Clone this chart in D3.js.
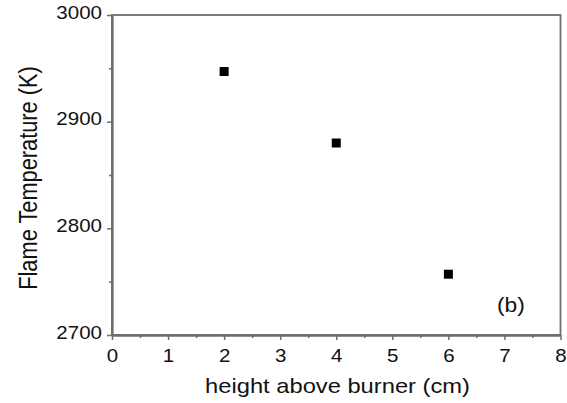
<!DOCTYPE html>
<html>
<head>
<meta charset="utf-8">
<script src="https://cdn.jsdelivr.net/npm/d3@7"></script>
<style>
  html, body { margin: 0; padding: 0; background: #fff; }
  svg { display: block; font-family: "Liberation Sans", Arial, sans-serif; }
</style>
</head>
<body>
<svg id="chart" width="567" height="403"></svg>
<script>
// ---- data ----
const heights = [2, 4, 6];               // height above burner (cm)
const temps = [2947, 2880, 2757];        // flame temperature (K)
const xTickValues = [0, 1, 2, 3, 4, 5, 6, 7, 8];
const xMinorTicks = [0.5, 1.5, 2.5, 3.5, 4.5, 5.5, 6.5, 7.5];
const yTickValues = [2700, 2800, 2900, 3000];
const yMinorTicks = [2750, 2850, 2950];
const xTitle = "height above burner (cm)";
const yTitle = "Flame Temperature (K)";
const panelLabel = "(b)";

// ---- layout ----
const mLeft = 112, mRight = 560.5, mTop = 15, mBottom = 335;
const axisColor = "#6e6e6e";
const textColor = "#111";
const sx = 1.14; // horizontal text stretch seen in reference

const svg = d3.select("#chart");
const x = d3.scaleLinear().domain([0, 8]).range([mLeft, mRight]);
const y = d3.scaleLinear().domain([2700, 3000]).range([mBottom, mTop]);

// frame
svg.append("rect")
  .attr("x", mLeft).attr("y", mTop)
  .attr("width", mRight - mLeft).attr("height", mBottom - mTop)
  .attr("fill", "none").attr("stroke", axisColor).attr("stroke-width", 1.8);

// x axis
const gx = svg.append("g").attr("transform", `translate(0,${mBottom})`)
  .call(d3.axisBottom(x).tickValues(xTickValues).tickSize(5).tickSizeOuter(0).tickFormat(d3.format("d")));
const gxm = svg.append("g").attr("transform", `translate(0,${mBottom})`)
  .call(d3.axisBottom(x).tickValues(xMinorTicks).tickSize(3).tickSizeOuter(0).tickFormat(""));

// y axis
const gy = svg.append("g").attr("transform", `translate(${mLeft},0)`)
  .call(d3.axisLeft(y).tickValues(yTickValues).tickSize(5).tickSizeOuter(0).tickFormat(d3.format("d")));
const gym = svg.append("g").attr("transform", `translate(${mLeft},0)`)
  .call(d3.axisLeft(y).tickValues(yMinorTicks).tickSize(3).tickSizeOuter(0).tickFormat(""));

[gx, gxm, gy, gym].forEach(g => {
  g.select(".domain").attr("stroke", axisColor).attr("stroke-width", 1.8);
  g.selectAll(".tick line").attr("stroke", axisColor).attr("stroke-width", 1.5);
});

gx.selectAll(".tick text")
  .attr("fill", textColor).attr("font-size", 18)
  .attr("y", 0).attr("dy", 0)
  .attr("transform", `translate(0,26.5) scale(${sx},1)`)
  .attr("font-family", "Liberation Sans, Arial, sans-serif");

gy.selectAll(".tick text")
  .attr("fill", textColor).attr("font-size", 18)
  .attr("x", -10 / sx).attr("dy", 0)
  .attr("transform", `translate(0,3) scale(${sx},1)`)
  .attr("font-family", "Liberation Sans, Arial, sans-serif");

// points
svg.append("g").selectAll("rect")
  .data(heights.map((h, i) => ({ h, t: temps[i] })))
  .join("rect")
  .attr("x", d => x(d.h) - 4.5)
  .attr("y", d => y(d.t) - 4.5)
  .attr("width", 9).attr("height", 9)
  .attr("fill", "#000");

// axis titles
svg.append("text")
  .attr("transform", `translate(337.5,393) scale(${sx},1)`)
  .attr("text-anchor", "middle")
  .attr("font-size", 20.8)
  .attr("fill", textColor)
  .text(xTitle);

svg.append("text")
  .attr("transform", `translate(37,178) rotate(-90) scale(1,${sx})`)
  .attr("text-anchor", "middle")
  .attr("font-size", 21.8)
  .attr("fill", textColor)
  .text(yTitle);

svg.append("text")
  .attr("transform", `translate(497,312) scale(${sx},1)`)
  .attr("font-size", 20)
  .attr("fill", textColor)
  .text(panelLabel);
</script>
</body>
</html>
